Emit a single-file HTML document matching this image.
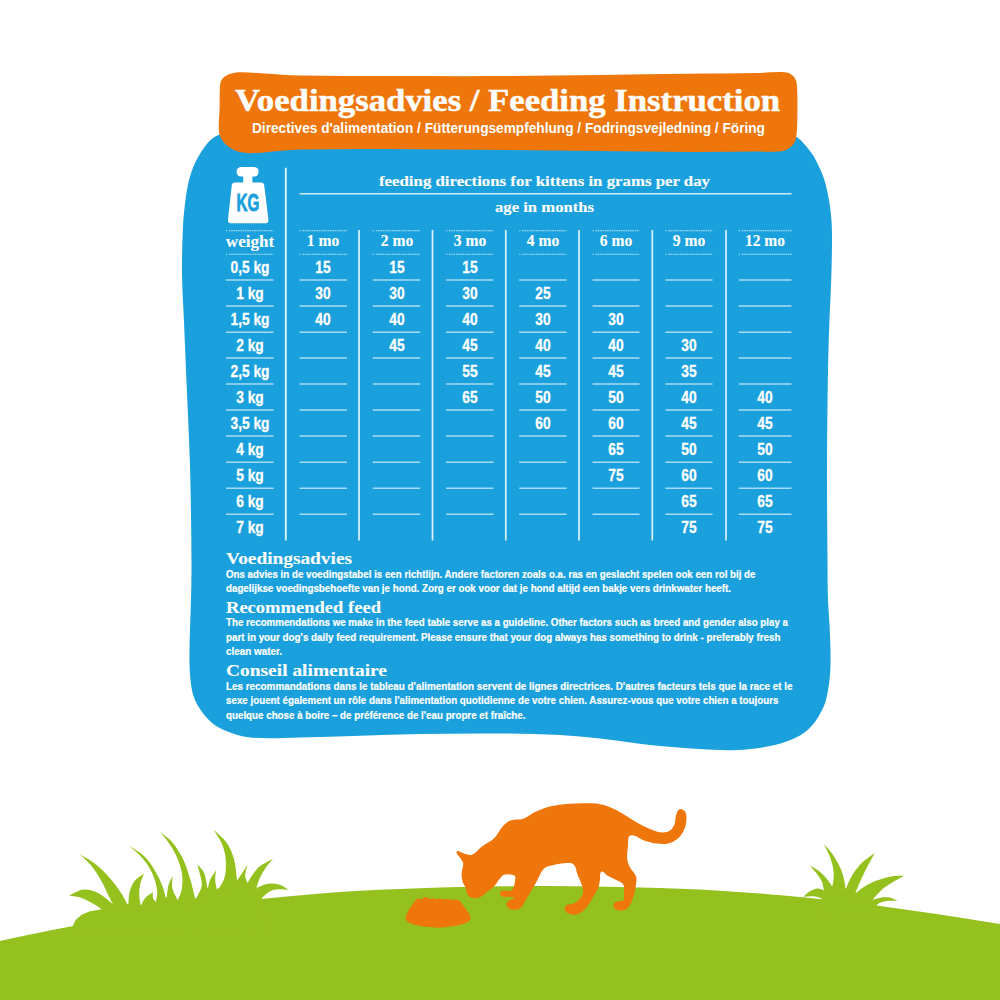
<!DOCTYPE html>
<html lang="nl"><head><meta charset="utf-8"><title>Voedingsadvies / Feeding Instruction</title>
<style>
html,body{margin:0;padding:0;background:#fff}
body{width:1000px;height:1000px;position:relative;overflow:hidden}
.t{position:absolute;white-space:nowrap;line-height:1;font-weight:bold;margin:0;padding:0}
.s{font-family:"Liberation Sans", sans-serif}
.f{font-family:"Liberation Serif", serif}
.l{transform-origin:0 0}
.c{transform-origin:50% 0}
</style></head><body>
<svg width="1000" height="1000" viewBox="0 0 1000 1000" style="position:absolute;left:0;top:0">
<path fill="#1AA0DC" d="M240.0 128.0 C325.8 125.1 414.2 125.0 500.0 125.0 C592.4 125.0 687.7 124.0 780.0 128.0 C786.8 128.3 792.4 134.1 798.0 138.0 C801.2 140.2 803.8 143.4 806.4 146.4 C809.0 149.4 811.5 152.6 813.6 156.0 C815.9 159.8 817.8 164.0 819.6 168.0 C821.4 171.9 823.2 175.9 824.4 180.0 C826.3 186.5 827.9 193.3 829.0 200.0 C830.4 208.5 831.5 217.4 831.8 226.0 C832.3 241.8 831.8 258.2 831.4 274.0 C831.0 289.8 830.0 306.2 829.4 322.0 C828.8 337.8 828.3 354.2 828.0 370.0 C827.5 401.7 827.1 434.3 827.0 466.0 C826.9 497.7 827.3 530.3 827.5 562.0 C827.6 574.5 827.6 587.5 828.0 600.0 C828.3 608.3 829.1 616.7 829.5 625.0 C829.9 633.2 830.4 641.7 830.5 650.0 C830.6 658.3 830.7 666.8 830.0 675.0 C829.3 683.3 828.0 691.9 826.0 700.0 C825.0 704.2 823.0 708.2 821.0 712.0 C818.6 716.5 815.9 721.2 812.5 725.0 C808.9 729.0 804.8 733.0 800.0 735.5 C792.2 739.7 783.6 743.0 775.0 745.0 C762.7 747.8 749.6 749.3 737.0 750.0 C724.8 750.7 712.2 749.7 700.0 749.0 C683.5 748.1 666.5 746.7 650.0 745.0 C633.5 743.3 616.5 740.3 600.0 738.5 C586.8 737.0 573.2 735.7 560.0 735.0 C540.2 734.0 519.8 733.6 500.0 733.5 C473.6 733.3 446.4 733.5 420.0 734.0 C380.4 734.8 339.6 736.7 300.0 737.5 C283.5 737.8 266.4 739.1 250.0 737.5 C241.0 736.6 232.0 733.5 223.8 730.0 C218.3 727.7 212.9 724.3 208.8 720.0 C203.2 714.2 198.3 707.3 195.0 700.0 C192.2 693.8 191.2 686.7 190.5 680.0 C189.4 670.2 189.4 659.9 189.5 650.0 C189.6 633.5 190.6 616.5 191.0 600.0 C191.3 587.5 191.6 574.5 191.5 562.0 C191.3 530.3 190.9 497.7 190.0 466.0 C189.1 434.3 187.3 401.7 186.0 370.0 C185.3 354.2 184.7 337.8 184.0 322.0 C183.3 306.2 182.2 289.9 182.0 274.0 C181.8 258.2 182.3 241.8 183.0 226.0 C183.4 217.4 184.4 208.5 185.5 200.0 C186.4 193.4 187.4 186.5 189.0 180.0 C190.3 174.7 192.2 169.4 194.4 164.4 C196.4 159.9 198.9 155.4 201.6 151.2 C204.1 147.4 206.7 143.5 210.0 140.4 C212.7 137.9 216.1 135.8 219.6 134.4 C226.1 131.7 232.9 128.2 240.0 128.0Z"/>
<path fill="#EE760A" d="M240.0 72.2 C247.9 72.1 256.1 73.0 264.0 73.4 C275.9 74.0 288.1 75.2 300.0 75.4 C329.7 76.0 360.3 75.9 390.0 76.0 C429.6 76.1 470.4 76.3 510.0 76.0 C569.4 75.6 630.6 74.5 690.0 73.8 C711.8 73.5 734.2 73.4 756.0 73.0 C763.9 72.8 772.1 72.0 780.0 72.0 C782.8 72.0 785.8 72.0 788.4 73.0 C790.7 73.9 792.9 75.4 794.4 77.4 C795.8 79.2 796.6 81.7 796.8 84.0 C797.6 91.9 797.4 100.1 797.4 108.0 C797.4 115.9 797.5 124.1 796.8 132.0 C796.5 135.6 796.2 139.6 794.4 142.8 C792.8 145.6 790.1 147.9 787.2 149.4 C784.3 150.9 780.8 151.4 777.6 151.6 C770.5 152.1 763.1 151.6 756.0 151.6 C734.2 151.7 711.8 152.1 690.0 152.0 C630.6 151.6 569.4 150.6 510.0 150.0 C470.4 149.6 429.6 149.1 390.0 149.0 C360.3 148.9 329.7 148.8 300.0 149.6 C288.1 149.9 275.9 151.6 264.0 152.4 C258.5 152.8 252.7 153.5 247.2 153.0 C242.3 152.5 237.2 151.5 232.8 149.4 C229.1 147.6 225.7 144.8 223.2 141.6 C221.1 138.9 219.4 135.4 219.0 132.0 C218.2 124.1 219.4 115.9 219.6 108.0 C219.8 100.1 219.3 91.9 220.2 84.0 C220.5 81.8 221.6 79.6 223.2 78.0 C225.1 76.1 227.8 74.7 230.4 73.8 C233.4 72.8 236.8 72.2 240.0 72.2Z"/>
<path fill="#95C11F" d="M-60.0 955.0 C-40.2 950.4 -19.9 945.3 0.0 941.0 C22.4 936.1 45.5 931.2 68.0 927.0 C95.0 922.0 122.8 916.9 150.0 913.0 C186.9 907.7 225.0 903.1 262.0 899.0 C287.7 896.2 314.2 894.0 340.0 892.0 C353.2 891.0 366.8 890.3 380.0 889.7 C406.4 888.6 433.6 887.6 460.0 887.0 C489.7 886.4 520.3 885.9 550.0 886.0 C579.7 886.1 610.3 886.7 640.0 887.5 C666.4 888.2 693.6 889.1 720.0 890.7 C746.4 892.3 773.6 894.5 800.0 897.0 C826.4 899.5 853.7 902.4 880.0 906.0 C919.7 911.4 960.5 917.6 1000.0 924.0 C1019.9 927.2 1040.2 931.4 1060.0 935.0 L1060 1010 L-60 1010 Z"/>
<g fill="#95C11F"><path d="M70.0 932.0 L75.6 920.0 L82.0 914.5 L90.0 911.2 L102.0 909.2 L112.8 904.3 L128.0 904.3 L141.0 905.3 L156.0 902.3 L166.0 897.2 L177.7 900.4 L195.5 898.4 L207.3 887.5 L216.7 889.8 L237.0 880.8 L247.5 883.3 L256.5 887.8 L262.0 898.5 L266.0 930.0Z"/><path d="M102.0 912.4 L102.0 909.4 C99.2 907.6 96.5 905.6 93.6 904.0 C89.7 901.8 85.8 899.4 81.6 898.0 C77.6 896.6 73.2 896.4 69.0 895.6 C74.0 893.6 78.7 890.0 84.0 889.6 C88.9 889.2 94.0 891.0 98.4 893.2 C103.7 895.9 108.0 900.4 112.8 904.0 L112.8 907.0 Z"/><path d="M112.8 909.0 L112.8 904.0 C111.2 900.8 109.6 897.6 108.0 894.4 C105.6 889.6 103.5 884.6 100.8 880.0 C97.9 875.1 94.8 870.0 91.2 865.6 C87.8 861.5 83.6 858.0 79.8 854.2 C85.1 857.6 91.1 860.4 96.0 864.4 C101.2 868.6 106.0 873.7 110.4 878.8 C114.3 883.3 117.9 888.3 121.2 893.2 C123.5 896.6 125.2 900.4 127.2 904.0 L127.2 909.0 Z"/><path d="M128.4 907.8 L128.4 902.8 C128.8 899.2 128.6 895.5 129.6 892.0 C130.6 888.2 132.0 884.3 134.4 881.2 C136.9 878.0 140.8 876.0 144.0 873.4 C142.8 876.8 141.2 880.1 140.4 883.6 C139.6 887.1 139.2 890.8 139.2 894.4 C139.2 897.6 140.0 900.8 140.4 904.0 L140.4 909.0 Z"/><path d="M141.0 910.2 L141.0 905.2 C142.4 902.8 143.3 900.0 145.2 898.0 C147.4 895.6 150.4 894.0 153.0 892.0 C153.0 894.0 152.4 896.1 153.0 898.0 C153.5 899.6 155.0 900.8 156.0 902.2 L156.0 907.2 Z"/><path d="M156.0 906.6 L156.0 901.6 C156.4 898.4 157.4 895.2 157.2 892.0 C157.0 888.0 156.1 883.8 154.8 880.0 C153.3 875.5 151.3 870.9 148.8 866.8 C146.1 862.5 142.7 858.5 139.2 854.8 C135.9 851.3 132.0 848.4 128.4 845.2 C133.5 848.8 139.5 851.7 144.0 856.0 C148.3 860.1 151.7 865.4 154.8 870.4 C157.6 874.9 160.0 879.9 162.0 884.8 C163.6 888.6 164.4 892.8 165.6 896.8 L165.6 901.8 Z"/><path d="M166.8 901.8 L166.8 896.8 C167.4 892.8 167.5 888.7 168.6 884.8 C169.5 881.7 171.3 878.9 172.6 876.0 C172.5 880.0 171.5 884.1 172.3 888.0 C173.2 892.3 175.9 896.2 177.7 900.2 L177.7 905.2 Z"/><path d="M177.7 905.2 L177.7 900.2 C179.0 897.0 180.9 893.9 181.5 890.5 C182.4 885.6 182.8 880.4 182.2 875.5 C181.5 869.9 179.8 864.2 177.7 859.0 C175.6 853.8 172.5 848.7 169.5 844.0 C166.8 839.8 163.4 836.0 160.4 832.0 C164.4 835.5 169.1 838.4 172.5 842.5 C176.6 847.4 180.2 853.2 183.0 859.0 C186.2 865.6 188.3 873.0 190.5 880.0 C192.3 885.9 193.5 892.1 195.0 898.0 L195.0 903.0 Z"/><path d="M196.5 903.0 L196.5 898.0 C198.2 894.0 201.0 890.3 201.7 886.0 C202.3 882.5 200.9 878.9 200.2 875.5 C199.4 871.7 198.2 867.9 197.2 864.2 C199.4 866.9 202.5 869.3 204.0 872.5 C205.9 876.7 206.0 881.5 207.0 886.0 L207.0 891.0 Z"/><path d="M207.7 894.0 L207.7 889.0 C208.5 886.0 208.8 882.8 210.0 880.0 C211.5 876.5 214.0 873.4 216.0 870.2 C215.7 873.4 215.1 876.8 215.2 880.0 C215.3 883.0 216.2 886.0 216.7 889.0 L216.7 894.0 Z"/><path d="M216.7 894.7 L216.7 889.7 C218.0 888.5 219.6 887.5 220.5 886.0 C222.4 882.7 224.3 879.2 225.0 875.5 C226.0 870.1 226.2 864.4 225.7 859.0 C225.2 853.9 223.9 848.7 222.0 844.0 C219.9 839.0 216.4 834.4 213.7 829.7 C217.9 833.9 223.1 837.6 226.5 842.5 C229.9 847.4 232.4 853.2 234.0 859.0 C235.9 865.7 236.0 873.1 237.0 880.0 L237.0 885.0 Z"/><path d="M237.0 885.7 L237.0 880.7 C238.5 878.5 240.0 876.2 241.5 874.0 C243.5 871.0 245.5 868.0 247.5 865.0 C246.7 868.5 245.2 872.0 245.2 875.5 C245.2 878.1 246.7 880.5 247.5 883.0 L247.5 888.0 Z"/><path d="M247.5 888.0 L247.5 883.0 C249.0 880.5 250.3 877.8 252.0 875.5 C254.3 872.4 256.5 868.9 259.5 866.5 C263.5 863.3 268.5 861.3 273.0 858.7 C270.5 861.8 267.7 864.7 265.5 868.0 C263.3 871.3 261.2 874.9 259.5 878.5 C258.2 881.3 257.5 884.5 256.5 887.5 L256.5 892.5 Z"/><path d="M257.2 890.5 L257.2 887.5 C260.9 886.2 264.6 884.2 268.5 883.7 C271.9 883.2 275.7 883.5 279.0 884.5 C282.5 885.5 285.5 888.0 288.7 889.7 C285.5 889.6 282.2 889.0 279.0 889.3 C276.0 889.5 272.7 889.8 270.0 891.2 C266.8 892.8 264.4 895.8 261.7 898.0 L261.7 901.0 Z"/><path d="M820.0 915.0 L823.0 899.0 L823.8 890.0 L832.2 886.6 L845.6 888.4 L855.6 892.8 L873.0 899.4 L877.0 905.0 L879.0 918.0Z"/><path d="M823.8 901.8 L823.8 899.8 C822.2 899.0 820.7 897.9 819.0 897.4 C816.7 896.7 814.2 896.3 811.8 896.2 C809.0 896.1 806.2 896.6 803.4 896.8 C805.4 895.0 807.1 892.7 809.4 891.4 C811.9 889.9 814.9 888.6 817.8 888.4 C819.9 888.2 821.8 889.6 823.8 890.2 L823.8 892.2 Z"/><path d="M823.8 895.2 L823.8 890.2 C823.2 887.4 823.1 884.4 822.0 881.8 C820.7 878.8 818.6 876.0 816.6 873.4 C814.4 870.6 811.8 868.2 809.4 865.6 C812.6 867.4 816.1 868.8 819.0 871.0 C822.1 873.4 824.9 876.4 827.4 879.4 C829.2 881.6 830.6 884.2 832.2 886.6 L832.2 891.6 Z"/><path d="M832.2 891.6 L832.2 886.6 C832.6 884.6 833.3 882.6 833.4 880.6 C833.7 877.0 833.9 873.3 833.4 869.8 C832.7 865.3 831.4 860.8 829.8 856.6 C828.2 852.3 825.8 848.2 823.8 844.0 C827.0 847.8 830.7 851.3 833.4 855.4 C836.4 859.9 839.1 864.8 841.2 869.8 C842.9 874.0 843.8 878.6 844.8 883.0 C845.2 884.7 845.2 886.6 845.4 888.4 L845.4 893.4 Z"/><path d="M846.0 893.4 L846.0 888.4 C848.2 883.8 849.9 878.9 852.6 874.6 C855.3 870.3 858.6 866.1 862.2 862.6 C865.9 859.0 870.6 856.2 874.8 853.0 C872.6 857.0 870.3 861.0 868.2 865.0 C865.7 869.7 863.2 874.6 861.0 879.4 C859.0 883.7 857.4 888.2 855.6 892.6 L855.6 897.6 Z"/><path d="M855.6 898.2 L855.6 893.2 C858.6 891.0 861.4 888.5 864.6 886.6 C868.4 884.3 872.5 882.2 876.6 880.6 C881.2 878.8 886.1 877.2 891.0 876.4 C895.3 875.7 899.8 876.0 904.2 875.8 C900.6 877.8 896.9 879.7 893.4 881.8 C889.7 884.0 885.9 886.2 882.6 889.0 C879.1 892.0 876.2 895.8 873.0 899.2 L873.0 904.2 Z"/><path d="M873.0 902.8 L873.0 899.8 C875.8 899.1 878.6 898.0 881.4 897.6 C884.1 897.2 887.1 897.1 889.8 897.6 C892.5 898.1 895.0 899.7 897.6 900.8 C894.6 900.8 891.6 900.5 888.6 900.8 C886.2 901.0 883.7 901.5 881.4 902.2 C879.7 902.7 878.2 903.8 876.6 904.6 L876.6 907.6 Z"/></g>
<path fill="#EE760A" d="M456.8 851.6 C458.1 849.5 461.6 853.1 464.0 853.6 C466.6 854.1 469.5 855.8 472.0 854.8 C475.8 853.3 478.3 849.3 481.6 846.8 C485.7 843.7 490.7 841.6 494.4 838.0 C497.7 834.9 499.3 830.2 502.4 826.8 C504.7 824.3 507.2 821.6 510.4 820.4 C514.4 818.9 519.2 820.2 523.2 818.8 C527.8 817.2 531.6 813.6 536.0 811.6 C541.1 809.3 546.5 807.1 552.0 806.0 C559.8 804.4 568.1 804.0 576.0 803.6 C582.6 803.2 589.4 803.0 596.0 803.6 C600.3 804.0 604.7 805.2 608.8 806.8 C613.8 808.7 618.6 811.4 623.2 814.0 C627.5 816.4 631.7 819.6 636.0 822.0 C640.1 824.3 644.4 826.6 648.8 828.4 C652.9 830.1 657.2 831.9 661.6 832.4 C664.3 832.7 667.3 832.2 669.6 830.8 C671.8 829.4 673.4 826.8 674.4 824.4 C675.5 821.7 675.2 818.4 676.0 815.6 C676.5 813.7 677.1 811.5 678.4 810.0 C679.1 809.2 680.6 808.9 681.6 809.2 C683.2 809.7 684.9 810.8 685.6 812.4 C686.6 814.8 686.6 817.8 686.4 820.4 C686.1 823.7 685.4 827.1 684.0 830.0 C682.5 833.2 680.3 836.5 677.6 838.8 C674.9 841.1 671.5 842.8 668.0 843.6 C664.4 844.4 660.5 844.1 656.8 843.6 C652.5 843.0 648.2 841.7 644.0 840.4 C639.4 839.0 634.9 834.0 630.4 835.6 C627.1 836.8 628.5 842.5 628.0 846.0 C627.4 850.2 626.9 854.6 627.2 858.8 C627.4 861.5 628.4 864.3 629.6 866.8 C631.3 870.2 634.7 872.8 636.0 876.4 C636.9 878.9 636.4 881.8 636.0 884.4 C635.3 889.2 634.3 894.2 632.8 898.8 C631.9 901.6 630.5 904.4 628.8 906.8 C627.8 908.2 626.4 909.6 624.8 910.0 C622.2 910.7 619.3 910.7 616.8 910.0 C615.4 909.6 614.1 908.2 613.6 906.8 C613.2 905.5 613.4 903.8 614.4 902.8 C615.6 901.6 617.6 901.6 619.2 901.2 C620.5 900.8 622.6 901.6 623.2 900.4 C624.5 898.1 624.0 895.1 624.0 892.4 C624.0 889.7 624.7 886.6 623.2 884.4 C621.5 881.9 617.9 881.1 615.2 879.6 C612.6 878.2 609.7 877.1 607.2 875.6 C605.2 874.4 603.6 870.5 601.6 871.6 C599.2 872.9 600.5 877.0 600.0 879.6 C599.5 882.2 599.4 885.1 598.4 887.6 C596.5 892.1 593.8 896.3 591.2 900.4 C589.1 903.7 586.8 907.2 584.0 910.0 C582.0 912.0 579.5 913.8 576.8 914.5 C574.5 915.1 571.8 914.8 569.6 914.0 C567.7 913.3 565.5 911.9 564.8 910.0 C564.2 908.4 565.1 906.3 566.4 905.2 C567.9 904.0 570.2 904.7 572.0 904.0 C574.2 903.1 576.7 902.1 578.4 900.4 C580.5 898.2 582.6 895.4 583.2 892.4 C583.7 889.8 582.4 887.0 581.6 884.4 C580.6 881.1 578.9 878.0 577.6 874.8 C576.2 871.4 576.4 866.8 573.6 864.4 C571.2 862.3 567.2 863.2 564.0 863.3 C560.3 863.4 556.4 864.3 552.8 865.2 C549.8 866.0 546.1 866.2 544.0 868.4 C540.2 872.3 538.7 878.1 536.0 882.8 C532.9 888.1 529.7 893.6 526.4 898.8 C524.4 902.0 523.2 906.3 520.0 908.4 C517.3 910.1 513.4 910.1 510.4 909.2 C508.4 908.6 506.8 906.4 506.4 904.4 C506.1 902.9 507.6 901.4 508.8 900.4 C510.2 899.2 513.0 899.8 514.0 898.2 C514.6 897.3 512.1 897.2 511.0 897.0 C508.2 896.6 505.1 897.3 502.4 896.4 C501.2 896.0 500.0 894.5 500.0 893.2 C500.0 892.1 501.3 891.1 502.4 890.8 C505.5 890.0 509.6 892.1 512.0 890.0 C514.7 887.6 514.6 883.1 515.2 879.6 C515.4 878.3 515.6 876.1 514.4 875.6 C511.2 874.2 507.3 873.9 504.0 874.8 C501.8 875.4 500.7 877.9 499.2 879.6 C497.5 881.6 496.3 884.1 494.4 886.0 C492.0 888.4 489.1 890.3 486.4 892.4 C484.3 894.0 482.5 896.2 480.0 897.2 C477.5 898.2 474.6 898.6 472.0 898.0 C470.0 897.5 468.3 895.8 467.2 894.0 C466.1 892.1 466.4 889.6 465.6 887.6 C464.8 885.4 463.0 883.5 462.4 881.2 C461.7 878.6 461.5 875.9 461.6 873.2 C461.7 870.0 463.4 866.8 463.2 863.6 C463.1 861.8 461.6 860.4 460.8 858.8 C459.5 856.4 455.4 853.9 456.8 851.6Z"/>
<path fill="#EE760A" d="M415.7 900 L418 898.5 L421 899.5 L424 897.5 L427 897 L430 899 L433 898 L436 899.3 L440 898.6 L444 899.6 L448 899 L452 900 L456 899.6 L459.8 900.7 L465 908 Q471.5 916 470.5 919.5 Q466 926 438.2 927.7 Q410 926.5 405.6 919.5 Q405 916 410 908 Z"/>
<g fill="#fff"><rect x="236.6" y="167" width="22" height="9.6" rx="4.6"/><rect x="243.2" y="174" width="9.2" height="10"/><path d="M234.6 182.4 H261.4 Q263.8 182.4 264.2 185 L268.4 219.6 Q268.8 223.2 265.4 223.2 H231 Q227.6 223.2 228 219.6 L231.8 185 Q232.2 182.4 234.6 182.4Z"/></g>
<g stroke="#fff" fill="none"><line x1="285.8" y1="167.8" x2="285.8" y2="540.5" stroke-width="1.9" stroke-opacity="0.85"/><line x1="299.5" y1="193.8" x2="791.5" y2="193.8" stroke-width="1.4" stroke-opacity="0.8"/><line x1="359.0" y1="230" x2="359.0" y2="540.5" stroke-width="1.7" stroke-opacity="0.85"/><line x1="432.5" y1="230" x2="432.5" y2="540.5" stroke-width="1.7" stroke-opacity="0.85"/><line x1="505.8" y1="230" x2="505.8" y2="540.5" stroke-width="1.7" stroke-opacity="0.85"/><line x1="579.0" y1="230" x2="579.0" y2="540.5" stroke-width="1.7" stroke-opacity="0.85"/><line x1="652.3" y1="230" x2="652.3" y2="540.5" stroke-width="1.7" stroke-opacity="0.85"/><line x1="726.0" y1="230" x2="726.0" y2="540.5" stroke-width="1.7" stroke-opacity="0.85"/><line x1="226.0" y1="230.8" x2="273.6" y2="230.8" stroke-width="1.1" stroke-dasharray="1.2 1.8 1.6 0.7 1.6 0.7 1.6 0.7 1.6 0.7 1.6 0.7 1.6 0.7 1.6 0.7 1.6 0.7 1.6 0.7 1.6 0.7 1.6 0.7 1.6 0.7 1.6 0.7 1.6 0.7 1.6 0.7 1.6 0.7 1.6 0.7 1.6 0.7 1.6 0.7 1.6 0.7 1.6 0.7 1.6 0.7 1.6 0.7" stroke-opacity="0.72"/><line x1="226.0" y1="254.3" x2="273.6" y2="254.3" stroke-width="1.1" stroke-dasharray="1.2 1.8 1.6 0.7 1.6 0.7 1.6 0.7 1.6 0.7 1.6 0.7 1.6 0.7 1.6 0.7 1.6 0.7 1.6 0.7 1.6 0.7 1.6 0.7 1.6 0.7 1.6 0.7 1.6 0.7 1.6 0.7 1.6 0.7 1.6 0.7 1.6 0.7 1.6 0.7 1.6 0.7 1.6 0.7 1.6 0.7 1.6 0.7" stroke-opacity="0.72"/><line x1="226.0" y1="280.0" x2="273.6" y2="280.0" stroke-width="1.5" stroke-opacity="0.62"/><line x1="226.0" y1="306.0" x2="273.6" y2="306.0" stroke-width="1.5" stroke-opacity="0.62"/><line x1="226.0" y1="332.3" x2="273.6" y2="332.3" stroke-width="1.5" stroke-opacity="0.62"/><line x1="226.0" y1="358.0" x2="273.6" y2="358.0" stroke-width="1.5" stroke-opacity="0.62"/><line x1="226.0" y1="384.0" x2="273.6" y2="384.0" stroke-width="1.5" stroke-opacity="0.62"/><line x1="226.0" y1="410.0" x2="273.6" y2="410.0" stroke-width="1.5" stroke-opacity="0.62"/><line x1="226.0" y1="436.0" x2="273.6" y2="436.0" stroke-width="1.5" stroke-opacity="0.62"/><line x1="226.0" y1="462.3" x2="273.6" y2="462.3" stroke-width="1.5" stroke-opacity="0.62"/><line x1="226.0" y1="488.3" x2="273.6" y2="488.3" stroke-width="1.5" stroke-opacity="0.62"/><line x1="226.0" y1="514.3" x2="273.6" y2="514.3" stroke-width="1.5" stroke-opacity="0.62"/><line x1="299.5" y1="230.8" x2="347.0" y2="230.8" stroke-width="1.1" stroke-dasharray="1.2 1.8 1.6 0.7 1.6 0.7 1.6 0.7 1.6 0.7 1.6 0.7 1.6 0.7 1.6 0.7 1.6 0.7 1.6 0.7 1.6 0.7 1.6 0.7 1.6 0.7 1.6 0.7 1.6 0.7 1.6 0.7 1.6 0.7 1.6 0.7 1.6 0.7 1.6 0.7 1.6 0.7 1.6 0.7 1.6 0.7 1.6 0.7" stroke-opacity="0.72"/><line x1="299.5" y1="254.3" x2="347.0" y2="254.3" stroke-width="1.1" stroke-dasharray="1.2 1.8 1.6 0.7 1.6 0.7 1.6 0.7 1.6 0.7 1.6 0.7 1.6 0.7 1.6 0.7 1.6 0.7 1.6 0.7 1.6 0.7 1.6 0.7 1.6 0.7 1.6 0.7 1.6 0.7 1.6 0.7 1.6 0.7 1.6 0.7 1.6 0.7 1.6 0.7 1.6 0.7 1.6 0.7 1.6 0.7 1.6 0.7" stroke-opacity="0.72"/><line x1="299.5" y1="280.0" x2="347.0" y2="280.0" stroke-width="1.5" stroke-opacity="0.62"/><line x1="299.5" y1="306.0" x2="347.0" y2="306.0" stroke-width="1.5" stroke-opacity="0.62"/><line x1="299.5" y1="332.3" x2="347.0" y2="332.3" stroke-width="1.5" stroke-opacity="0.62"/><line x1="299.5" y1="358.0" x2="347.0" y2="358.0" stroke-width="1.5" stroke-opacity="0.62"/><line x1="299.5" y1="384.0" x2="347.0" y2="384.0" stroke-width="1.5" stroke-opacity="0.62"/><line x1="299.5" y1="410.0" x2="347.0" y2="410.0" stroke-width="1.5" stroke-opacity="0.62"/><line x1="299.5" y1="436.0" x2="347.0" y2="436.0" stroke-width="1.5" stroke-opacity="0.62"/><line x1="299.5" y1="462.3" x2="347.0" y2="462.3" stroke-width="1.5" stroke-opacity="0.62"/><line x1="299.5" y1="488.3" x2="347.0" y2="488.3" stroke-width="1.5" stroke-opacity="0.62"/><line x1="299.5" y1="514.3" x2="347.0" y2="514.3" stroke-width="1.5" stroke-opacity="0.62"/><line x1="372.8" y1="230.8" x2="420.2" y2="230.8" stroke-width="1.1" stroke-dasharray="1.2 1.8 1.6 0.7 1.6 0.7 1.6 0.7 1.6 0.7 1.6 0.7 1.6 0.7 1.6 0.7 1.6 0.7 1.6 0.7 1.6 0.7 1.6 0.7 1.6 0.7 1.6 0.7 1.6 0.7 1.6 0.7 1.6 0.7 1.6 0.7 1.6 0.7 1.6 0.7 1.6 0.7 1.6 0.7 1.6 0.7 1.6 0.7" stroke-opacity="0.72"/><line x1="372.8" y1="254.3" x2="420.2" y2="254.3" stroke-width="1.1" stroke-dasharray="1.2 1.8 1.6 0.7 1.6 0.7 1.6 0.7 1.6 0.7 1.6 0.7 1.6 0.7 1.6 0.7 1.6 0.7 1.6 0.7 1.6 0.7 1.6 0.7 1.6 0.7 1.6 0.7 1.6 0.7 1.6 0.7 1.6 0.7 1.6 0.7 1.6 0.7 1.6 0.7 1.6 0.7 1.6 0.7 1.6 0.7 1.6 0.7" stroke-opacity="0.72"/><line x1="372.8" y1="280.0" x2="420.2" y2="280.0" stroke-width="1.5" stroke-opacity="0.62"/><line x1="372.8" y1="306.0" x2="420.2" y2="306.0" stroke-width="1.5" stroke-opacity="0.62"/><line x1="372.8" y1="332.3" x2="420.2" y2="332.3" stroke-width="1.5" stroke-opacity="0.62"/><line x1="372.8" y1="358.0" x2="420.2" y2="358.0" stroke-width="1.5" stroke-opacity="0.62"/><line x1="372.8" y1="384.0" x2="420.2" y2="384.0" stroke-width="1.5" stroke-opacity="0.62"/><line x1="372.8" y1="410.0" x2="420.2" y2="410.0" stroke-width="1.5" stroke-opacity="0.62"/><line x1="372.8" y1="436.0" x2="420.2" y2="436.0" stroke-width="1.5" stroke-opacity="0.62"/><line x1="372.8" y1="462.3" x2="420.2" y2="462.3" stroke-width="1.5" stroke-opacity="0.62"/><line x1="372.8" y1="488.3" x2="420.2" y2="488.3" stroke-width="1.5" stroke-opacity="0.62"/><line x1="372.8" y1="514.3" x2="420.2" y2="514.3" stroke-width="1.5" stroke-opacity="0.62"/><line x1="446.0" y1="230.8" x2="493.5" y2="230.8" stroke-width="1.1" stroke-dasharray="1.2 1.8 1.6 0.7 1.6 0.7 1.6 0.7 1.6 0.7 1.6 0.7 1.6 0.7 1.6 0.7 1.6 0.7 1.6 0.7 1.6 0.7 1.6 0.7 1.6 0.7 1.6 0.7 1.6 0.7 1.6 0.7 1.6 0.7 1.6 0.7 1.6 0.7 1.6 0.7 1.6 0.7 1.6 0.7 1.6 0.7 1.6 0.7" stroke-opacity="0.72"/><line x1="446.0" y1="254.3" x2="493.5" y2="254.3" stroke-width="1.1" stroke-dasharray="1.2 1.8 1.6 0.7 1.6 0.7 1.6 0.7 1.6 0.7 1.6 0.7 1.6 0.7 1.6 0.7 1.6 0.7 1.6 0.7 1.6 0.7 1.6 0.7 1.6 0.7 1.6 0.7 1.6 0.7 1.6 0.7 1.6 0.7 1.6 0.7 1.6 0.7 1.6 0.7 1.6 0.7 1.6 0.7 1.6 0.7 1.6 0.7" stroke-opacity="0.72"/><line x1="446.0" y1="280.0" x2="493.5" y2="280.0" stroke-width="1.5" stroke-opacity="0.62"/><line x1="446.0" y1="306.0" x2="493.5" y2="306.0" stroke-width="1.5" stroke-opacity="0.62"/><line x1="446.0" y1="332.3" x2="493.5" y2="332.3" stroke-width="1.5" stroke-opacity="0.62"/><line x1="446.0" y1="358.0" x2="493.5" y2="358.0" stroke-width="1.5" stroke-opacity="0.62"/><line x1="446.0" y1="384.0" x2="493.5" y2="384.0" stroke-width="1.5" stroke-opacity="0.62"/><line x1="446.0" y1="410.0" x2="493.5" y2="410.0" stroke-width="1.5" stroke-opacity="0.62"/><line x1="446.0" y1="436.0" x2="493.5" y2="436.0" stroke-width="1.5" stroke-opacity="0.62"/><line x1="446.0" y1="462.3" x2="493.5" y2="462.3" stroke-width="1.5" stroke-opacity="0.62"/><line x1="446.0" y1="488.3" x2="493.5" y2="488.3" stroke-width="1.5" stroke-opacity="0.62"/><line x1="446.0" y1="514.3" x2="493.5" y2="514.3" stroke-width="1.5" stroke-opacity="0.62"/><line x1="519.2" y1="230.8" x2="566.5" y2="230.8" stroke-width="1.1" stroke-dasharray="1.2 1.8 1.6 0.7 1.6 0.7 1.6 0.7 1.6 0.7 1.6 0.7 1.6 0.7 1.6 0.7 1.6 0.7 1.6 0.7 1.6 0.7 1.6 0.7 1.6 0.7 1.6 0.7 1.6 0.7 1.6 0.7 1.6 0.7 1.6 0.7 1.6 0.7 1.6 0.7 1.6 0.7 1.6 0.7 1.6 0.7 1.6 0.7" stroke-opacity="0.72"/><line x1="519.2" y1="254.3" x2="566.5" y2="254.3" stroke-width="1.1" stroke-dasharray="1.2 1.8 1.6 0.7 1.6 0.7 1.6 0.7 1.6 0.7 1.6 0.7 1.6 0.7 1.6 0.7 1.6 0.7 1.6 0.7 1.6 0.7 1.6 0.7 1.6 0.7 1.6 0.7 1.6 0.7 1.6 0.7 1.6 0.7 1.6 0.7 1.6 0.7 1.6 0.7 1.6 0.7 1.6 0.7 1.6 0.7 1.6 0.7" stroke-opacity="0.72"/><line x1="519.2" y1="280.0" x2="566.5" y2="280.0" stroke-width="1.5" stroke-opacity="0.62"/><line x1="519.2" y1="306.0" x2="566.5" y2="306.0" stroke-width="1.5" stroke-opacity="0.62"/><line x1="519.2" y1="332.3" x2="566.5" y2="332.3" stroke-width="1.5" stroke-opacity="0.62"/><line x1="519.2" y1="358.0" x2="566.5" y2="358.0" stroke-width="1.5" stroke-opacity="0.62"/><line x1="519.2" y1="384.0" x2="566.5" y2="384.0" stroke-width="1.5" stroke-opacity="0.62"/><line x1="519.2" y1="410.0" x2="566.5" y2="410.0" stroke-width="1.5" stroke-opacity="0.62"/><line x1="519.2" y1="436.0" x2="566.5" y2="436.0" stroke-width="1.5" stroke-opacity="0.62"/><line x1="519.2" y1="462.3" x2="566.5" y2="462.3" stroke-width="1.5" stroke-opacity="0.62"/><line x1="519.2" y1="488.3" x2="566.5" y2="488.3" stroke-width="1.5" stroke-opacity="0.62"/><line x1="519.2" y1="514.3" x2="566.5" y2="514.3" stroke-width="1.5" stroke-opacity="0.62"/><line x1="592.5" y1="230.8" x2="639.5" y2="230.8" stroke-width="1.1" stroke-dasharray="1.2 1.8 1.6 0.7 1.6 0.7 1.6 0.7 1.6 0.7 1.6 0.7 1.6 0.7 1.6 0.7 1.6 0.7 1.6 0.7 1.6 0.7 1.6 0.7 1.6 0.7 1.6 0.7 1.6 0.7 1.6 0.7 1.6 0.7 1.6 0.7 1.6 0.7 1.6 0.7 1.6 0.7 1.6 0.7 1.6 0.7 1.6 0.7" stroke-opacity="0.72"/><line x1="592.5" y1="254.3" x2="639.5" y2="254.3" stroke-width="1.1" stroke-dasharray="1.2 1.8 1.6 0.7 1.6 0.7 1.6 0.7 1.6 0.7 1.6 0.7 1.6 0.7 1.6 0.7 1.6 0.7 1.6 0.7 1.6 0.7 1.6 0.7 1.6 0.7 1.6 0.7 1.6 0.7 1.6 0.7 1.6 0.7 1.6 0.7 1.6 0.7 1.6 0.7 1.6 0.7 1.6 0.7 1.6 0.7 1.6 0.7" stroke-opacity="0.72"/><line x1="592.5" y1="280.0" x2="639.5" y2="280.0" stroke-width="1.5" stroke-opacity="0.62"/><line x1="592.5" y1="306.0" x2="639.5" y2="306.0" stroke-width="1.5" stroke-opacity="0.62"/><line x1="592.5" y1="332.3" x2="639.5" y2="332.3" stroke-width="1.5" stroke-opacity="0.62"/><line x1="592.5" y1="358.0" x2="639.5" y2="358.0" stroke-width="1.5" stroke-opacity="0.62"/><line x1="592.5" y1="384.0" x2="639.5" y2="384.0" stroke-width="1.5" stroke-opacity="0.62"/><line x1="592.5" y1="410.0" x2="639.5" y2="410.0" stroke-width="1.5" stroke-opacity="0.62"/><line x1="592.5" y1="436.0" x2="639.5" y2="436.0" stroke-width="1.5" stroke-opacity="0.62"/><line x1="592.5" y1="462.3" x2="639.5" y2="462.3" stroke-width="1.5" stroke-opacity="0.62"/><line x1="592.5" y1="488.3" x2="639.5" y2="488.3" stroke-width="1.5" stroke-opacity="0.62"/><line x1="592.5" y1="514.3" x2="639.5" y2="514.3" stroke-width="1.5" stroke-opacity="0.62"/><line x1="665.5" y1="230.8" x2="712.5" y2="230.8" stroke-width="1.1" stroke-dasharray="1.2 1.8 1.6 0.7 1.6 0.7 1.6 0.7 1.6 0.7 1.6 0.7 1.6 0.7 1.6 0.7 1.6 0.7 1.6 0.7 1.6 0.7 1.6 0.7 1.6 0.7 1.6 0.7 1.6 0.7 1.6 0.7 1.6 0.7 1.6 0.7 1.6 0.7 1.6 0.7 1.6 0.7 1.6 0.7 1.6 0.7 1.6 0.7" stroke-opacity="0.72"/><line x1="665.5" y1="254.3" x2="712.5" y2="254.3" stroke-width="1.1" stroke-dasharray="1.2 1.8 1.6 0.7 1.6 0.7 1.6 0.7 1.6 0.7 1.6 0.7 1.6 0.7 1.6 0.7 1.6 0.7 1.6 0.7 1.6 0.7 1.6 0.7 1.6 0.7 1.6 0.7 1.6 0.7 1.6 0.7 1.6 0.7 1.6 0.7 1.6 0.7 1.6 0.7 1.6 0.7 1.6 0.7 1.6 0.7 1.6 0.7" stroke-opacity="0.72"/><line x1="665.5" y1="280.0" x2="712.5" y2="280.0" stroke-width="1.5" stroke-opacity="0.62"/><line x1="665.5" y1="306.0" x2="712.5" y2="306.0" stroke-width="1.5" stroke-opacity="0.62"/><line x1="665.5" y1="332.3" x2="712.5" y2="332.3" stroke-width="1.5" stroke-opacity="0.62"/><line x1="665.5" y1="358.0" x2="712.5" y2="358.0" stroke-width="1.5" stroke-opacity="0.62"/><line x1="665.5" y1="384.0" x2="712.5" y2="384.0" stroke-width="1.5" stroke-opacity="0.62"/><line x1="665.5" y1="410.0" x2="712.5" y2="410.0" stroke-width="1.5" stroke-opacity="0.62"/><line x1="665.5" y1="436.0" x2="712.5" y2="436.0" stroke-width="1.5" stroke-opacity="0.62"/><line x1="665.5" y1="462.3" x2="712.5" y2="462.3" stroke-width="1.5" stroke-opacity="0.62"/><line x1="665.5" y1="488.3" x2="712.5" y2="488.3" stroke-width="1.5" stroke-opacity="0.62"/><line x1="665.5" y1="514.3" x2="712.5" y2="514.3" stroke-width="1.5" stroke-opacity="0.62"/><line x1="738.8" y1="230.8" x2="791.5" y2="230.8" stroke-width="1.1" stroke-dasharray="1.2 1.8 1.6 0.7 1.6 0.7 1.6 0.7 1.6 0.7 1.6 0.7 1.6 0.7 1.6 0.7 1.6 0.7 1.6 0.7 1.6 0.7 1.6 0.7 1.6 0.7 1.6 0.7 1.6 0.7 1.6 0.7 1.6 0.7 1.6 0.7 1.6 0.7 1.6 0.7 1.6 0.7 1.6 0.7 1.6 0.7 1.6 0.7" stroke-opacity="0.72"/><line x1="738.8" y1="254.3" x2="791.5" y2="254.3" stroke-width="1.1" stroke-dasharray="1.2 1.8 1.6 0.7 1.6 0.7 1.6 0.7 1.6 0.7 1.6 0.7 1.6 0.7 1.6 0.7 1.6 0.7 1.6 0.7 1.6 0.7 1.6 0.7 1.6 0.7 1.6 0.7 1.6 0.7 1.6 0.7 1.6 0.7 1.6 0.7 1.6 0.7 1.6 0.7 1.6 0.7 1.6 0.7 1.6 0.7 1.6 0.7" stroke-opacity="0.72"/><line x1="738.8" y1="280.0" x2="791.5" y2="280.0" stroke-width="1.5" stroke-opacity="0.62"/><line x1="738.8" y1="306.0" x2="791.5" y2="306.0" stroke-width="1.5" stroke-opacity="0.62"/><line x1="738.8" y1="332.3" x2="791.5" y2="332.3" stroke-width="1.5" stroke-opacity="0.62"/><line x1="738.8" y1="358.0" x2="791.5" y2="358.0" stroke-width="1.5" stroke-opacity="0.62"/><line x1="738.8" y1="384.0" x2="791.5" y2="384.0" stroke-width="1.5" stroke-opacity="0.62"/><line x1="738.8" y1="410.0" x2="791.5" y2="410.0" stroke-width="1.5" stroke-opacity="0.62"/><line x1="738.8" y1="436.0" x2="791.5" y2="436.0" stroke-width="1.5" stroke-opacity="0.62"/><line x1="738.8" y1="462.3" x2="791.5" y2="462.3" stroke-width="1.5" stroke-opacity="0.62"/><line x1="738.8" y1="488.3" x2="791.5" y2="488.3" stroke-width="1.5" stroke-opacity="0.62"/><line x1="738.8" y1="514.3" x2="791.5" y2="514.3" stroke-width="1.5" stroke-opacity="0.62"/></g>
</svg>
<div class="t f l" id="title" style="top:83.58px;font-size:32.50px;color:#fff;left:235.00px;transform:scaleX(1.0671);-webkit-text-stroke:0.50px #fff;"><span>Voedingsadvies / Feeding Instruction</span></div>
<div class="t s l" id="sub" style="top:120.56px;font-size:14.70px;color:#fff;left:252.00px;transform:scaleX(0.9309);"><span>Directives d'alimentation / Fütterungsempfehlung / Fodringsvejledning / Föring</span></div>
<div class="t f l" id="h1" style="top:172.62px;font-size:15.50px;color:#fff;left:378.75px;transform:scaleX(1.0843);-webkit-text-stroke:0.12px #fff;"><span>feeding directions for kittens in grams per day</span></div>
<div class="t f l" id="h2" style="top:198.82px;font-size:15.50px;color:#fff;left:495.00px;transform:scaleX(1.0743);-webkit-text-stroke:0.12px #fff;"><span>age in months</span></div>
<div class="t s c" id="kg" style="top:191.35px;font-size:23.80px;color:#1AA0DC;left:148.20px;width:200px;text-align:center;transform:scaleX(0.6386);-webkit-text-stroke:0.90px #1AA0DC;"><span>KG</span></div>
<div class="t f c" id="wt" style="top:233.50px;font-size:16.00px;color:#fff;left:149.80px;width:200px;text-align:center;transform:scaleX(1.0678);-webkit-text-stroke:0.12px #fff;"><span>weight</span></div>
<div class="t f c" id="mo0" style="top:233.25px;font-size:16.30px;color:#fff;left:223.25px;width:200px;text-align:center;transform:scaleX(0.9581);-webkit-text-stroke:0.12px #fff;"><span>1 mo</span></div>
<div class="t f c" id="mo1" style="top:233.25px;font-size:16.30px;color:#fff;left:296.50px;width:200px;text-align:center;transform:scaleX(0.9581);-webkit-text-stroke:0.12px #fff;"><span>2 mo</span></div>
<div class="t f c" id="mo2" style="top:233.25px;font-size:16.30px;color:#fff;left:369.75px;width:200px;text-align:center;transform:scaleX(0.9581);-webkit-text-stroke:0.12px #fff;"><span>3 mo</span></div>
<div class="t f c" id="mo3" style="top:233.25px;font-size:16.30px;color:#fff;left:442.88px;width:200px;text-align:center;transform:scaleX(0.9581);-webkit-text-stroke:0.12px #fff;"><span>4 mo</span></div>
<div class="t f c" id="mo4" style="top:233.25px;font-size:16.30px;color:#fff;left:516.00px;width:200px;text-align:center;transform:scaleX(0.9581);-webkit-text-stroke:0.12px #fff;"><span>6 mo</span></div>
<div class="t f c" id="mo5" style="top:233.25px;font-size:16.30px;color:#fff;left:589.00px;width:200px;text-align:center;transform:scaleX(0.9581);-webkit-text-stroke:0.12px #fff;"><span>9 mo</span></div>
<div class="t f c" id="mo6" style="top:233.25px;font-size:16.30px;color:#fff;left:665.12px;width:200px;text-align:center;transform:scaleX(0.9510);-webkit-text-stroke:0.12px #fff;"><span>12 mo</span></div>
<div class="t s c" id="w0" style="top:258.99px;font-size:16.20px;color:#fff;left:149.80px;width:200px;text-align:center;transform:scaleX(0.8500);-webkit-text-stroke:0.30px #fff;"><span>0,5 kg</span></div>
<div class="t s c" id="d0_0" style="top:258.99px;font-size:16.20px;color:#fff;left:223.25px;width:200px;text-align:center;transform:scaleX(0.8500);-webkit-text-stroke:0.30px #fff;"><span>15</span></div>
<div class="t s c" id="d0_1" style="top:258.99px;font-size:16.20px;color:#fff;left:296.50px;width:200px;text-align:center;transform:scaleX(0.8500);-webkit-text-stroke:0.30px #fff;"><span>15</span></div>
<div class="t s c" id="d0_2" style="top:258.99px;font-size:16.20px;color:#fff;left:369.75px;width:200px;text-align:center;transform:scaleX(0.8500);-webkit-text-stroke:0.30px #fff;"><span>15</span></div>
<div class="t s c" id="w1" style="top:285.02px;font-size:16.20px;color:#fff;left:149.80px;width:200px;text-align:center;transform:scaleX(0.8500);-webkit-text-stroke:0.30px #fff;"><span>1 kg</span></div>
<div class="t s c" id="d1_0" style="top:285.02px;font-size:16.20px;color:#fff;left:223.25px;width:200px;text-align:center;transform:scaleX(0.8500);-webkit-text-stroke:0.30px #fff;"><span>30</span></div>
<div class="t s c" id="d1_1" style="top:285.02px;font-size:16.20px;color:#fff;left:296.50px;width:200px;text-align:center;transform:scaleX(0.8500);-webkit-text-stroke:0.30px #fff;"><span>30</span></div>
<div class="t s c" id="d1_2" style="top:285.02px;font-size:16.20px;color:#fff;left:369.75px;width:200px;text-align:center;transform:scaleX(0.8500);-webkit-text-stroke:0.30px #fff;"><span>30</span></div>
<div class="t s c" id="d1_3" style="top:285.02px;font-size:16.20px;color:#fff;left:442.88px;width:200px;text-align:center;transform:scaleX(0.8500);-webkit-text-stroke:0.30px #fff;"><span>25</span></div>
<div class="t s c" id="w2" style="top:311.05px;font-size:16.20px;color:#fff;left:149.80px;width:200px;text-align:center;transform:scaleX(0.8500);-webkit-text-stroke:0.30px #fff;"><span>1,5 kg</span></div>
<div class="t s c" id="d2_0" style="top:311.05px;font-size:16.20px;color:#fff;left:223.25px;width:200px;text-align:center;transform:scaleX(0.8500);-webkit-text-stroke:0.30px #fff;"><span>40</span></div>
<div class="t s c" id="d2_1" style="top:311.05px;font-size:16.20px;color:#fff;left:296.50px;width:200px;text-align:center;transform:scaleX(0.8500);-webkit-text-stroke:0.30px #fff;"><span>40</span></div>
<div class="t s c" id="d2_2" style="top:311.05px;font-size:16.20px;color:#fff;left:369.75px;width:200px;text-align:center;transform:scaleX(0.8500);-webkit-text-stroke:0.30px #fff;"><span>40</span></div>
<div class="t s c" id="d2_3" style="top:311.05px;font-size:16.20px;color:#fff;left:442.88px;width:200px;text-align:center;transform:scaleX(0.8500);-webkit-text-stroke:0.30px #fff;"><span>30</span></div>
<div class="t s c" id="d2_4" style="top:311.05px;font-size:16.20px;color:#fff;left:516.00px;width:200px;text-align:center;transform:scaleX(0.8500);-webkit-text-stroke:0.30px #fff;"><span>30</span></div>
<div class="t s c" id="w3" style="top:337.08px;font-size:16.20px;color:#fff;left:149.80px;width:200px;text-align:center;transform:scaleX(0.8500);-webkit-text-stroke:0.30px #fff;"><span>2 kg</span></div>
<div class="t s c" id="d3_1" style="top:337.08px;font-size:16.20px;color:#fff;left:296.50px;width:200px;text-align:center;transform:scaleX(0.8500);-webkit-text-stroke:0.30px #fff;"><span>45</span></div>
<div class="t s c" id="d3_2" style="top:337.08px;font-size:16.20px;color:#fff;left:369.75px;width:200px;text-align:center;transform:scaleX(0.8500);-webkit-text-stroke:0.30px #fff;"><span>45</span></div>
<div class="t s c" id="d3_3" style="top:337.08px;font-size:16.20px;color:#fff;left:442.88px;width:200px;text-align:center;transform:scaleX(0.8500);-webkit-text-stroke:0.30px #fff;"><span>40</span></div>
<div class="t s c" id="d3_4" style="top:337.08px;font-size:16.20px;color:#fff;left:516.00px;width:200px;text-align:center;transform:scaleX(0.8500);-webkit-text-stroke:0.30px #fff;"><span>40</span></div>
<div class="t s c" id="d3_5" style="top:337.08px;font-size:16.20px;color:#fff;left:589.00px;width:200px;text-align:center;transform:scaleX(0.8500);-webkit-text-stroke:0.30px #fff;"><span>30</span></div>
<div class="t s c" id="w4" style="top:363.11px;font-size:16.20px;color:#fff;left:149.80px;width:200px;text-align:center;transform:scaleX(0.8500);-webkit-text-stroke:0.30px #fff;"><span>2,5 kg</span></div>
<div class="t s c" id="d4_2" style="top:363.11px;font-size:16.20px;color:#fff;left:369.75px;width:200px;text-align:center;transform:scaleX(0.8500);-webkit-text-stroke:0.30px #fff;"><span>55</span></div>
<div class="t s c" id="d4_3" style="top:363.11px;font-size:16.20px;color:#fff;left:442.88px;width:200px;text-align:center;transform:scaleX(0.8500);-webkit-text-stroke:0.30px #fff;"><span>45</span></div>
<div class="t s c" id="d4_4" style="top:363.11px;font-size:16.20px;color:#fff;left:516.00px;width:200px;text-align:center;transform:scaleX(0.8500);-webkit-text-stroke:0.30px #fff;"><span>45</span></div>
<div class="t s c" id="d4_5" style="top:363.11px;font-size:16.20px;color:#fff;left:589.00px;width:200px;text-align:center;transform:scaleX(0.8500);-webkit-text-stroke:0.30px #fff;"><span>35</span></div>
<div class="t s c" id="w5" style="top:389.14px;font-size:16.20px;color:#fff;left:149.80px;width:200px;text-align:center;transform:scaleX(0.8500);-webkit-text-stroke:0.30px #fff;"><span>3 kg</span></div>
<div class="t s c" id="d5_2" style="top:389.14px;font-size:16.20px;color:#fff;left:369.75px;width:200px;text-align:center;transform:scaleX(0.8500);-webkit-text-stroke:0.30px #fff;"><span>65</span></div>
<div class="t s c" id="d5_3" style="top:389.14px;font-size:16.20px;color:#fff;left:442.88px;width:200px;text-align:center;transform:scaleX(0.8500);-webkit-text-stroke:0.30px #fff;"><span>50</span></div>
<div class="t s c" id="d5_4" style="top:389.14px;font-size:16.20px;color:#fff;left:516.00px;width:200px;text-align:center;transform:scaleX(0.8500);-webkit-text-stroke:0.30px #fff;"><span>50</span></div>
<div class="t s c" id="d5_5" style="top:389.14px;font-size:16.20px;color:#fff;left:589.00px;width:200px;text-align:center;transform:scaleX(0.8500);-webkit-text-stroke:0.30px #fff;"><span>40</span></div>
<div class="t s c" id="d5_6" style="top:389.14px;font-size:16.20px;color:#fff;left:665.12px;width:200px;text-align:center;transform:scaleX(0.8500);-webkit-text-stroke:0.30px #fff;"><span>40</span></div>
<div class="t s c" id="w6" style="top:415.17px;font-size:16.20px;color:#fff;left:149.80px;width:200px;text-align:center;transform:scaleX(0.8500);-webkit-text-stroke:0.30px #fff;"><span>3,5 kg</span></div>
<div class="t s c" id="d6_3" style="top:415.17px;font-size:16.20px;color:#fff;left:442.88px;width:200px;text-align:center;transform:scaleX(0.8500);-webkit-text-stroke:0.30px #fff;"><span>60</span></div>
<div class="t s c" id="d6_4" style="top:415.17px;font-size:16.20px;color:#fff;left:516.00px;width:200px;text-align:center;transform:scaleX(0.8500);-webkit-text-stroke:0.30px #fff;"><span>60</span></div>
<div class="t s c" id="d6_5" style="top:415.17px;font-size:16.20px;color:#fff;left:589.00px;width:200px;text-align:center;transform:scaleX(0.8500);-webkit-text-stroke:0.30px #fff;"><span>45</span></div>
<div class="t s c" id="d6_6" style="top:415.17px;font-size:16.20px;color:#fff;left:665.12px;width:200px;text-align:center;transform:scaleX(0.8500);-webkit-text-stroke:0.30px #fff;"><span>45</span></div>
<div class="t s c" id="w7" style="top:441.20px;font-size:16.20px;color:#fff;left:149.80px;width:200px;text-align:center;transform:scaleX(0.8500);-webkit-text-stroke:0.30px #fff;"><span>4 kg</span></div>
<div class="t s c" id="d7_4" style="top:441.20px;font-size:16.20px;color:#fff;left:516.00px;width:200px;text-align:center;transform:scaleX(0.8500);-webkit-text-stroke:0.30px #fff;"><span>65</span></div>
<div class="t s c" id="d7_5" style="top:441.20px;font-size:16.20px;color:#fff;left:589.00px;width:200px;text-align:center;transform:scaleX(0.8500);-webkit-text-stroke:0.30px #fff;"><span>50</span></div>
<div class="t s c" id="d7_6" style="top:441.20px;font-size:16.20px;color:#fff;left:665.12px;width:200px;text-align:center;transform:scaleX(0.8500);-webkit-text-stroke:0.30px #fff;"><span>50</span></div>
<div class="t s c" id="w8" style="top:467.23px;font-size:16.20px;color:#fff;left:149.80px;width:200px;text-align:center;transform:scaleX(0.8500);-webkit-text-stroke:0.30px #fff;"><span>5 kg</span></div>
<div class="t s c" id="d8_4" style="top:467.23px;font-size:16.20px;color:#fff;left:516.00px;width:200px;text-align:center;transform:scaleX(0.8500);-webkit-text-stroke:0.30px #fff;"><span>75</span></div>
<div class="t s c" id="d8_5" style="top:467.23px;font-size:16.20px;color:#fff;left:589.00px;width:200px;text-align:center;transform:scaleX(0.8500);-webkit-text-stroke:0.30px #fff;"><span>60</span></div>
<div class="t s c" id="d8_6" style="top:467.23px;font-size:16.20px;color:#fff;left:665.12px;width:200px;text-align:center;transform:scaleX(0.8500);-webkit-text-stroke:0.30px #fff;"><span>60</span></div>
<div class="t s c" id="w9" style="top:493.26px;font-size:16.20px;color:#fff;left:149.80px;width:200px;text-align:center;transform:scaleX(0.8500);-webkit-text-stroke:0.30px #fff;"><span>6 kg</span></div>
<div class="t s c" id="d9_5" style="top:493.26px;font-size:16.20px;color:#fff;left:589.00px;width:200px;text-align:center;transform:scaleX(0.8500);-webkit-text-stroke:0.30px #fff;"><span>65</span></div>
<div class="t s c" id="d9_6" style="top:493.26px;font-size:16.20px;color:#fff;left:665.12px;width:200px;text-align:center;transform:scaleX(0.8500);-webkit-text-stroke:0.30px #fff;"><span>65</span></div>
<div class="t s c" id="w10" style="top:519.29px;font-size:16.20px;color:#fff;left:149.80px;width:200px;text-align:center;transform:scaleX(0.8500);-webkit-text-stroke:0.30px #fff;"><span>7 kg</span></div>
<div class="t s c" id="d10_5" style="top:519.29px;font-size:16.20px;color:#fff;left:589.00px;width:200px;text-align:center;transform:scaleX(0.8500);-webkit-text-stroke:0.30px #fff;"><span>75</span></div>
<div class="t s c" id="d10_6" style="top:519.29px;font-size:16.20px;color:#fff;left:665.12px;width:200px;text-align:center;transform:scaleX(0.8500);-webkit-text-stroke:0.30px #fff;"><span>75</span></div>
<div class="t f l" id="t1" style="top:550.77px;font-size:15.80px;color:#fff;left:226.00px;transform:scaleX(1.2231);-webkit-text-stroke:0.10px #fff;"><span>Voedingsadvies</span></div>
<div class="t s l" id="p1a" style="top:568.52px;font-size:11.20px;color:#fff;left:226.00px;transform:scaleX(0.8696);-webkit-text-stroke:0.20px #fff;"><span>Ons advies in de voedingstabel is een richtlijn. Andere factoren zoals o.a. ras en geslacht spelen ook een rol bij de</span></div>
<div class="t s l" id="p1b" style="top:583.02px;font-size:11.20px;color:#fff;left:226.00px;transform:scaleX(0.8735);-webkit-text-stroke:0.20px #fff;"><span>dagelijkse voedingsbehoefte van je hond. Zorg er ook voor dat je hond altijd een bakje vers drinkwater heeft.</span></div>
<div class="t f l" id="t2" style="top:599.77px;font-size:15.80px;color:#fff;left:226.00px;transform:scaleX(1.1738);-webkit-text-stroke:0.10px #fff;"><span>Recommended feed</span></div>
<div class="t s l" id="p2a" style="top:617.02px;font-size:11.20px;color:#fff;left:226.00px;transform:scaleX(0.8708);-webkit-text-stroke:0.20px #fff;"><span>The recommendations we make in the feed table serve as a guideline. Other factors such as breed and gender also play a</span></div>
<div class="t s l" id="p2b" style="top:631.52px;font-size:11.20px;color:#fff;left:226.00px;transform:scaleX(0.8759);-webkit-text-stroke:0.20px #fff;"><span>part in your dog's daily feed requirement. Please ensure that your dog always has something to drink - preferably fresh</span></div>
<div class="t s l" id="p2c" style="top:646.02px;font-size:11.20px;color:#fff;left:226.00px;transform:scaleX(0.8828);-webkit-text-stroke:0.20px #fff;"><span>clean water.</span></div>
<div class="t f l" id="t3" style="top:663.37px;font-size:15.80px;color:#fff;left:226.00px;transform:scaleX(1.2299);-webkit-text-stroke:0.10px #fff;"><span>Conseil alimentaire</span></div>
<div class="t s l" id="p3a" style="top:680.52px;font-size:11.20px;color:#fff;left:226.00px;transform:scaleX(0.8824);-webkit-text-stroke:0.20px #fff;"><span>Les recommandations dans le tableau d'alimentation servent de lignes directrices. D'autres facteurs tels que la race et le</span></div>
<div class="t s l" id="p3b" style="top:695.02px;font-size:11.20px;color:#fff;left:226.00px;transform:scaleX(0.8742);-webkit-text-stroke:0.20px #fff;"><span>sexe jouent également un rôle dans l'alimentation quotidienne de votre chien. Assurez-vous que votre chien a toujours</span></div>
<div class="t s l" id="p3c" style="top:710.02px;font-size:11.20px;color:#fff;left:226.00px;transform:scaleX(0.8738);-webkit-text-stroke:0.20px #fff;"><span>quelque chose à boire – de préférence de l'eau propre et fraîche.</span></div>
</body></html>
